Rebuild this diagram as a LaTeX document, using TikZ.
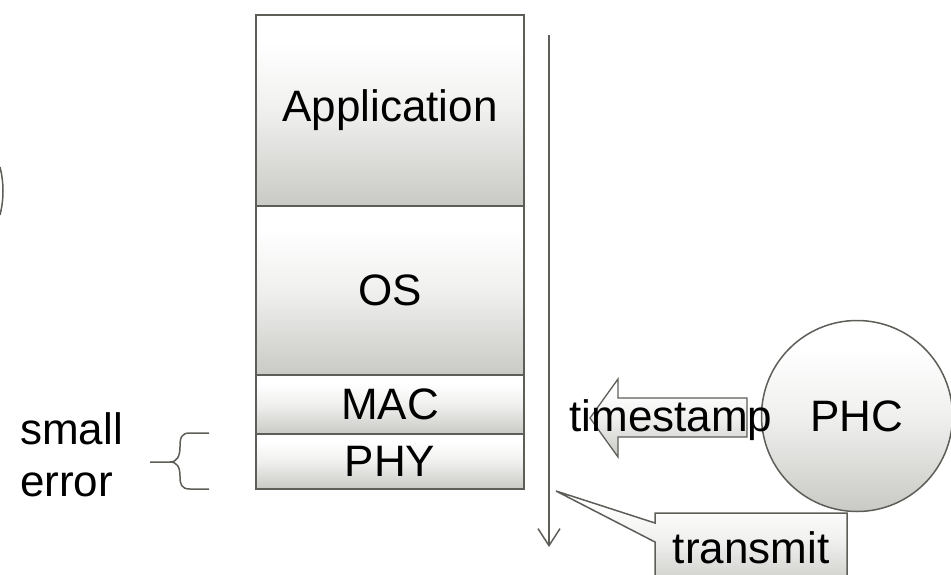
\documentclass[tikz,border=0pt]{standalone}
\usepackage{fontspec}
\setmainfont{Liberation Sans}
\usetikzlibrary{arrows.meta}
\definecolor{edge}{HTML}{5E5E59}
\definecolor{shadegray}{HTML}{C9C9C5}
% white at the top fading to grey at the bottom
\pgfdeclareverticalshading{softgray}{100bp}{%
  color(0bp)=(shadegray); color(25bp)=(shadegray);
  color(50bp)=(shadegray!28!white); color(68bp)=(white); color(100bp)=(white)}
\tikzset{
  bigtext/.style={font=\fontsize{44}{52}\selectfont},
  layer/.style={draw=edge, line width=2pt, shading=softgray,
    minimum width=268pt, inner sep=0pt, anchor=north, bigtext},
  thinline/.style={draw=edge, line width=1.5pt},
}
\begin{document}
\begin{tikzpicture}[x=1pt, y=-1pt]
  \useasboundingbox (0,0) rectangle (951,574);

  % protocol stack
  \node[layer, minimum height=191pt] (app) at (390,14)  {Application};
  \node[layer, minimum height=169pt] (os)  at (390,205) {OS};
  \node[layer, minimum height=59pt]  (mac) at (390,374) {MAC};
  \node[layer, minimum height=55pt]  (phy) at (390,433) {PHY};

  % path of a packet down the stack
  \coordinate (flowtop) at (549,35);
  \coordinate (flowend) at (549,547);
  \draw[thinline, -{Straight Barb[length=17pt,width=22pt,line width=1.5pt]}] (flowtop) -- (flowend);

  % edge of a circle partly outside the frame
  \draw[thinline] (0,167) .. controls (4,183) and (4,199) .. (0,215);

  % brace and its note
  \draw[thinline] (209,433) -- (190,433) .. controls (181,433) and (180,438) .. (180,447)
    .. controls (180,456) and (177,462) .. (170,462) -- (150,462);
  \draw[thinline] (209,489) -- (190,489) .. controls (181,489) and (180,484) .. (180,476)
    .. controls (180,467) and (177,462) .. (170,462);
  \node[bigtext, anchor=base west, inner sep=0pt] (small) at (20,444) {small};
  \node[bigtext, anchor=base west, inner sep=0pt] (error) at (20,496) {error};

  % hardware clock
  \node[circle, thinline, shading=softgray, minimum size=191pt,
    inner sep=0pt, bigtext] (phc) at (857,416) {PHC};

  % timestamp block arrow
  \path[thinline, line width=1.3pt, shading=softgray]
    (590,418) -- (618,379) -- (618,398) -- (747,398) -- (747,437) -- (618,437) -- (618,457) -- cycle;
  \node[bigtext, inner sep=0pt] (ts) at (671,420) {timestamp};

  % transmit callout
  \coordinate (txpoint) at (556,491);
  \path[thinline, shading=softgray]
    (655,513) -- (847,513) -- (847,590) -- (655,590) -- (655,542) -- (txpoint) -- (655,523) -- cycle;
  \node[bigtext, inner sep=0pt] (tx) at (751,548) {transmit};
\end{tikzpicture}
\end{document}
